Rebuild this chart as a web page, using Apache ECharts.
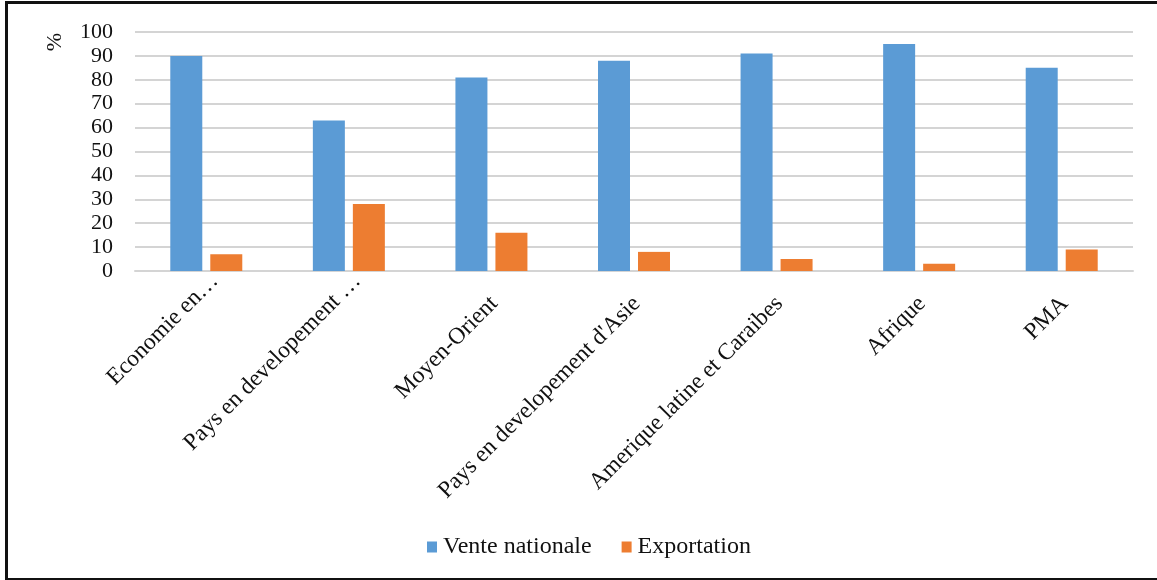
<!DOCTYPE html>
<html>
<head>
<meta charset="utf-8">
<script src="https://cdn.jsdelivr.net/npm/echarts@6/dist/echarts.min.js"></script>
<style>
  html, body { margin: 0; padding: 0; background: #fff; }
  #frame {
    position: absolute; left: 5px; top: 1px; width: 1160px; height: 574px;
    border-left: 3px solid #111; border-top: 3px solid #111; border-bottom: 3px solid #111;
    box-sizing: content-box;
  }
  #chart { position: absolute; left: 0; top: 0; width: 1157px; height: 580px; }
</style>
</head>
<body>
<div id="frame"></div>
<div id="chart"></div>
<script>
const categories = [
  "Economie en…",
  "Pays en developement …",
  "Moyen-Orient",
  "Pays en developement d'Asie",
  "Amerique latine et Caraibes",
  "Afrique",
  "PMA"
];
const venteNationale = [90, 63, 81, 88, 91, 95, 85];
const exportation = [7, 28, 16, 8, 5, 3, 9];
const yTicks = { min: 0, max: 100, interval: 10 };

const font = "'Liberation Serif', 'DejaVu Serif', serif";

// truncated names keep the room of their full text, so they sit further out
const categoryItems = categories.map(function (name) {
  return name.endsWith('…')
    ? { value: name, textStyle: { padding: [0, -12, 0, 0] } }
    : name;
});

const chart = echarts.init(document.getElementById('chart'), null, { renderer: 'canvas' });

chart.setOption({
  animation: false,
  backgroundColor: 'transparent',
  grid: { left: 135, right: 24, top: 32, bottom: 309, containLabel: false },
  legend: {
    data: ['Vente nationale', 'Exportation'],
    top: 530,
    left: 422,
    itemWidth: 10,
    itemHeight: 11,
    itemGap: 30,
    icon: 'rect',
    textStyle: { fontFamily: font, fontSize: 24, color: '#111', padding: [0, 0, 0, 1] }
  },
  xAxis: {
    type: 'category',
    data: categoryItems,
    axisLine: { show: true, lineStyle: { color: '#d4d4d4', width: 2 } },
    axisTick: { show: false },
    axisLabel: {
      rotate: 45,
      interval: 0,
      margin: 15,
      fontFamily: font,
      fontSize: 23.5,
      color: '#111',
      verticalAlign: 'top',
      padding: [0, 8, 0, 0]
    }
  },
  yAxis: {
    type: 'value',
    min: yTicks.min,
    max: yTicks.max,
    interval: yTicks.interval,
    axisLine: { show: false },
    axisTick: { show: false },
    axisLabel: { fontFamily: font, fontSize: 22, color: '#111', margin: 22 },
    splitLine: { lineStyle: { color: '#d4d4d4', width: 2 } }
  },
  graphic: [
    {
      // unit label of the value axis
      type: 'text',
      x: 55,
      y: 42,
      rotation: Math.PI / 2,
      style: {
        text: '%',
        fontFamily: font,
        fontSize: 22,
        fill: '#111',
        align: 'center',
        verticalAlign: 'middle'
      }
    }
  ],
  series: [
    {
      name: 'Vente nationale',
      type: 'bar',
      data: venteNationale,
      barWidth: 32,
      barGap: '25%',
      itemStyle: { color: '#5b9bd5' }
    },
    {
      name: 'Exportation',
      type: 'bar',
      data: exportation,
      barWidth: 32,
      itemStyle: { color: '#ed7d31' }
    }
  ]
});
</script>
</body>
</html>
